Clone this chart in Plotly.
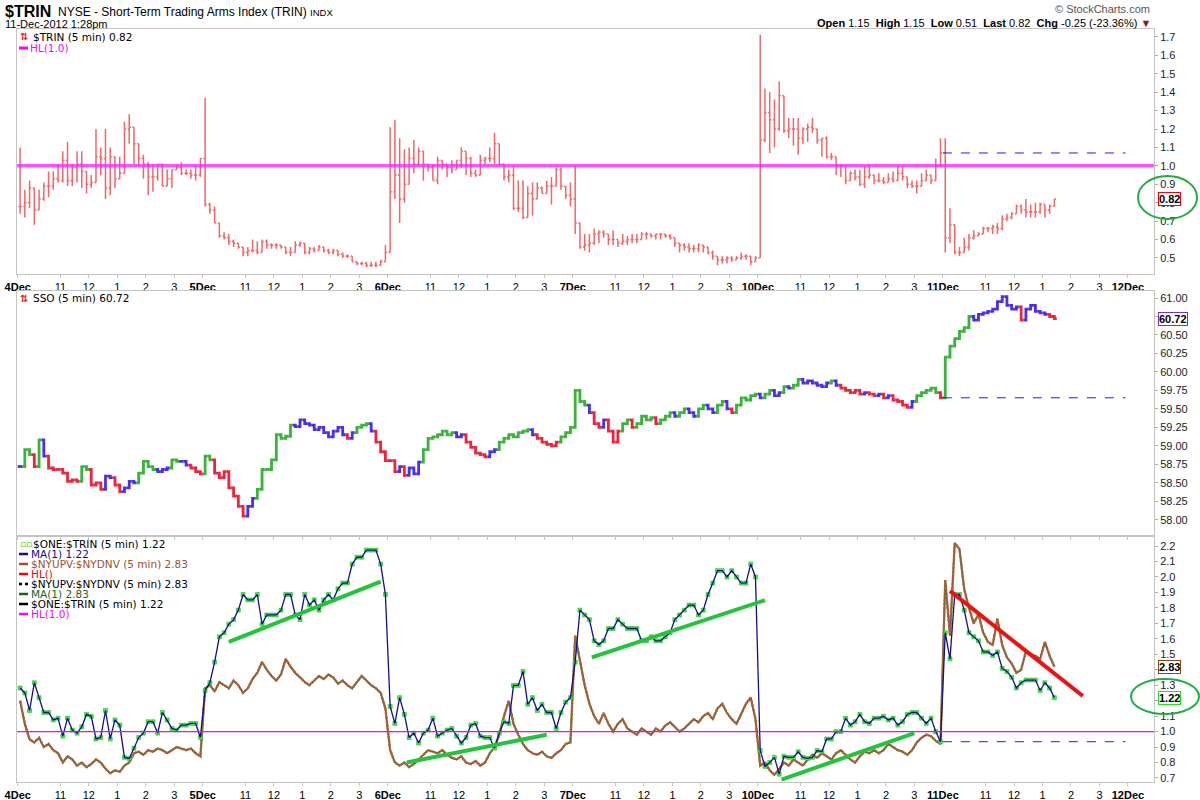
import numpy as np
import plotly.graph_objects as go

# ---------------- data (10-minute samples) ----------------
day_labels = ["4Dec", "5Dec", "6Dec", "7Dec", "10Dec", "11Dec", "12Dec"]
hour_labels = ["11", "12", "1", "2", "3"]

# $TRIN close / high / low per day
trin_close_dec04 = [0.78,0.80,0.88,0.76,0.82,0.89,0.89,0.93,0.92,1.03,0.92,0.99,1.01,0.97,0.90,0.91,1.05,1.04,0.88,1.05,
                    0.93,0.96,1.20,1.21,1.12,1.04,1.01,0.94,0.94,1.01,0.89,0.93,0.98,0.99,0.96,0.96,0.95,0.95,1.04]
trin_high_dec04 = [1.10,0.87,0.92,0.82,0.87,0.91,0.97,0.97,1.01,1.08,1.13,1.01,1.08,1.08,0.95,0.95,1.20,1.10,1.20,1.10,
                   1.01,1.05,1.24,1.28,1.21,1.08,1.06,1.02,1.01,1.01,0.98,0.98,0.98,1.01,1.02,0.98,0.98,1.00,1.04]
trin_low_dec04 = [0.74,0.72,0.77,0.68,0.76,0.81,0.83,0.87,0.91,0.91,0.89,0.89,0.91,0.88,0.85,0.88,0.94,0.95,0.82,0.84,
                  0.88,0.93,1.00,1.12,1.01,1.00,0.93,0.84,0.86,0.92,0.89,0.92,0.88,0.98,0.95,0.95,0.93,0.92,0.94]

trin_close_dec05 = [0.79,0.76,0.69,0.62,0.61,0.59,0.58,0.56,0.53,0.54,0.54,0.53,0.59,0.57,0.57,0.57,0.56,0.53,0.53,0.57,
                    0.58,0.53,0.55,0.54,0.56,0.54,0.53,0.54,0.52,0.51,0.51,0.48,0.47,0.47,0.46,0.46,0.46,0.48,0.53]
trin_high_dec05 = [1.37,0.80,0.78,0.68,0.64,0.63,0.60,0.58,0.56,0.56,0.60,0.59,0.60,0.60,0.58,0.58,0.57,0.56,0.56,0.59,
                   0.59,0.57,0.56,0.56,0.57,0.56,0.55,0.55,0.54,0.53,0.52,0.50,0.48,0.48,0.48,0.48,0.48,0.49,0.57]
trin_low_dec05 = [0.78,0.74,0.69,0.61,0.60,0.57,0.56,0.55,0.51,0.51,0.53,0.52,0.56,0.55,0.55,0.55,0.55,0.52,0.51,0.55,
                  0.56,0.52,0.52,0.53,0.54,0.53,0.52,0.52,0.51,0.50,0.50,0.48,0.46,0.46,0.45,0.45,0.45,0.46,0.48]

trin_close_dec06 = [0.86,0.95,0.82,0.90,1.04,1.01,1.08,1.01,0.99,0.92,1.03,1.01,0.99,0.98,1.03,1.08,1.04,0.96,0.95,1.03,
                    1.04,1.04,1.12,1.01,0.94,0.95,0.77,0.77,0.72,0.85,0.82,0.88,0.85,0.89,0.89,0.98,0.89,0.84,0.82]
trin_high_dec06 = [1.21,1.25,1.15,1.09,1.10,1.14,1.10,1.08,1.01,1.01,1.05,1.02,1.01,1.03,1.03,1.10,1.05,1.05,0.98,1.06,
                   1.05,1.10,1.18,1.09,1.01,0.98,1.00,0.92,0.92,0.89,0.91,0.91,0.89,0.92,0.94,0.99,0.99,0.89,0.91]
trin_low_dec06 = [0.71,0.82,0.69,0.80,0.96,0.96,1.00,0.92,0.97,0.92,0.90,0.98,0.94,0.96,1.00,0.99,0.95,0.94,0.94,1.00,
                  1.01,1.02,1.01,1.00,0.92,0.91,0.76,0.75,0.71,0.75,0.73,0.87,0.85,0.85,0.79,0.89,0.87,0.82,0.78]

trin_close_dec07 = [0.69,0.56,0.57,0.58,0.63,0.64,0.63,0.60,0.60,0.58,0.59,0.60,0.60,0.60,0.63,0.63,0.62,0.63,0.63,0.62,
                    0.61,0.58,0.57,0.56,0.55,0.55,0.57,0.56,0.53,0.51,0.49,0.49,0.50,0.49,0.50,0.51,0.51,0.48,0.50]
trin_high_dec07 = [1.00,0.67,0.63,0.63,0.66,0.65,0.65,0.63,0.65,0.60,0.63,0.62,0.63,0.63,0.64,0.64,0.63,0.63,0.63,0.63,
                   0.63,0.60,0.58,0.58,0.58,0.57,0.58,0.57,0.55,0.54,0.50,0.51,0.51,0.51,0.51,0.53,0.52,0.50,0.51]
trin_low_dec07 = [0.63,0.55,0.54,0.53,0.57,0.58,0.61,0.57,0.57,0.56,0.57,0.57,0.58,0.58,0.61,0.60,0.61,0.60,0.60,0.61,
                  0.60,0.56,0.53,0.54,0.53,0.53,0.53,0.53,0.52,0.49,0.46,0.47,0.47,0.48,0.49,0.49,0.49,0.46,0.48]

trin_close_dec10 = [1.14,1.29,1.25,1.20,1.38,1.19,1.20,1.20,1.15,1.20,1.21,1.20,1.14,1.15,1.05,1.05,1.00,1.00,0.92,0.96,
                    0.94,0.90,0.94,0.95,0.92,0.92,0.91,0.93,0.92,0.96,0.94,0.90,0.89,0.89,0.92,0.95,0.92,1.00,1.07]
trin_high_dec10 = [1.71,1.42,1.40,1.36,1.46,1.37,1.26,1.26,1.26,1.21,1.23,1.26,1.18,1.15,1.16,1.07,1.01,1.01,0.99,0.97,
                   0.98,0.98,1.00,1.01,0.95,0.96,0.94,0.96,0.97,1.00,1.00,0.94,0.92,0.92,0.96,0.98,0.93,1.04,1.15]
trin_low_dec10 = [1.09,1.13,1.07,1.10,1.19,1.18,1.15,1.11,1.06,1.12,1.13,1.18,1.12,1.05,1.04,1.03,0.95,0.94,0.90,0.93,
                  0.92,0.89,0.88,0.93,0.90,0.91,0.90,0.91,0.91,0.94,0.92,0.88,0.88,0.85,0.90,0.92,0.90,0.96,1.00]

trin_close_dec11 = [0.61,0.68,0.53,0.53,0.56,0.61,0.62,0.63,0.66,0.66,0.67,0.66,0.71,0.72,0.74,0.78,0.76,0.75,0.75,0.75,
                    0.79,0.76,0.78,0.82]
trin_high_dec11 = [1.15,0.77,0.60,0.56,0.61,0.63,0.65,0.64,0.67,0.67,0.68,0.69,0.73,0.74,0.75,0.79,0.79,0.82,0.79,0.80,
                   0.80,0.79,0.79,0.82]
trin_low_dec11 = [0.53,0.58,0.52,0.51,0.53,0.54,0.60,0.62,0.63,0.64,0.63,0.63,0.65,0.70,0.71,0.75,0.74,0.72,0.72,0.72,
                  0.74,0.72,0.74,0.79]
trin_open_dec11 = 1.15

# SSO closes per day
sso_dec04 = [58.72,58.95,58.88,58.72,59.08,58.86,58.70,58.68,58.68,58.63,58.52,58.54,58.52,58.72,58.68,58.47,58.50,58.41,58.59,58.57,
             58.47,58.38,58.43,58.52,58.50,58.63,58.79,58.72,58.68,58.65,58.68,58.70,58.81,58.79,58.79,58.74,58.70,58.65,58.62]
sso_dec05 = [58.86,58.81,58.63,58.57,58.65,58.43,58.32,58.18,58.05,58.18,58.29,58.41,58.68,58.68,58.81,59.15,59.10,59.13,59.28,59.26,
             59.35,59.30,59.28,59.22,59.25,59.18,59.12,59.20,59.25,59.15,59.10,59.18,59.25,59.28,59.30,59.20,59.05,58.92,58.80]
sso_dec06 = [58.80,58.65,58.72,58.60,58.70,58.62,58.78,58.95,59.10,59.12,59.15,59.20,59.15,59.18,59.12,59.15,59.05,58.98,58.90,58.88,
             58.85,58.92,58.95,59.05,59.10,59.15,59.12,59.18,59.20,59.22,59.15,59.10,59.05,59.02,59.00,59.05,59.12,59.18,59.25]
sso_dec07 = [59.75,59.60,59.55,59.45,59.30,59.25,59.35,59.20,59.05,59.20,59.30,59.35,59.25,59.30,59.40,59.35,59.38,59.30,59.35,59.40,
             59.45,59.40,59.45,59.50,59.45,59.40,59.50,59.55,59.50,59.45,59.55,59.60,59.50,59.45,59.55,59.65,59.62,59.68,59.70]
sso_dec10 = [59.65,59.70,59.75,59.68,59.72,59.80,59.78,59.82,59.90,59.85,59.88,59.85,59.82,59.80,59.85,59.88,59.82,59.78,59.75,59.72,
             59.75,59.70,59.72,59.70,59.68,59.70,59.65,59.68,59.62,59.60,59.55,59.52,59.60,59.68,59.72,59.75,59.78,59.72,59.65]
sso_dec11 = [60.20,60.35,60.45,60.55,60.60,60.75,60.70,60.78,60.80,60.82,60.85,60.95,61.02,60.90,60.85,60.88,60.70,60.85,60.90,60.82,
             60.80,60.78,60.75,60.72]

# $NYUPV:$NYDNV as drawn in the lower panel (panel scale)
updn_dec04 = [1.20,1.05,0.95,0.93,0.96,0.90,0.92,0.88,0.86,0.80,0.84,0.82,0.78,0.80,0.77,0.79,0.82,0.80,0.76,0.73,
              0.75,0.74,0.78,0.80,0.86,0.87,0.85,0.88,0.87,0.89,0.88,0.86,0.88,0.90,0.89,0.88,0.89,0.86,0.84]
updn_dec05 = [1.28,1.30,1.26,1.32,1.30,1.28,1.33,1.30,1.25,1.28,1.34,1.38,1.45,1.40,1.36,1.33,1.37,1.47,1.42,1.38,
              1.35,1.32,1.30,1.33,1.36,1.34,1.37,1.35,1.31,1.33,1.30,1.28,1.32,1.36,1.33,1.30,1.28,1.25,1.15]
updn_dec06 = [0.88,0.80,0.78,0.80,0.77,0.79,0.82,0.85,0.88,0.87,0.86,0.88,0.85,0.83,0.82,0.84,0.80,0.79,0.81,0.78,
              0.80,0.86,0.90,0.98,1.10,1.20,1.05,0.98,0.92,0.88,0.86,0.85,0.87,0.84,0.83,0.86,0.88,0.92,0.93]
updn_dec07 = [1.62,1.45,1.30,1.18,1.10,1.05,1.12,1.05,1.00,1.05,1.08,1.02,1.00,0.98,1.02,1.00,0.98,1.02,1.00,1.04,
              1.06,1.03,1.00,1.02,1.05,1.08,1.06,1.10,1.12,1.08,1.15,1.18,1.12,1.08,1.05,1.12,1.18,1.22,1.08]
updn_dec10 = [0.78,0.80,0.75,0.72,0.76,0.80,0.78,0.82,0.80,0.78,0.82,0.85,0.83,0.86,0.84,0.82,0.86,0.88,0.85,0.82,
              0.80,0.84,0.87,0.86,0.88,0.86,0.88,0.92,0.90,0.88,0.87,0.85,0.88,0.93,0.96,0.98,0.97,0.94,0.92]
updn_dec11 = [1.98,1.62,2.22,2.18,1.92,1.80,1.70,1.76,1.64,1.58,1.56,1.73,1.56,1.48,1.44,1.38,1.40,1.52,1.50,1.49,
              1.47,1.58,1.49,1.42]
updn_last = 2.83

# hand-drawn trendlines in the lower panel: (bar0, value0, bar1, value1)
green_trendlines = [(89, 1.58, 153, 1.97), (164, 0.80, 223, 0.98), (242, 1.48, 315, 1.85), (322, 0.69, 378, 0.99)]
red_trendline = (393, 1.91, 449, 1.23)

# ---------------- assemble ----------------
BARS = 78  # 5-minute bars per session


def sample_x(day, n):
    return [day * BARS + 2 * j + 1 for j in range(n)]


trin_days = [(trin_close_dec04, trin_high_dec04, trin_low_dec04), (trin_close_dec05, trin_high_dec05, trin_low_dec05),
             (trin_close_dec06, trin_high_dec06, trin_low_dec06), (trin_close_dec07, trin_high_dec07, trin_low_dec07),
             (trin_close_dec10, trin_high_dec10, trin_low_dec10), (trin_close_dec11, trin_high_dec11, trin_low_dec11)]
sso_days = [sso_dec04, sso_dec05, sso_dec06, sso_dec07, sso_dec10, sso_dec11]
updn_days = [updn_dec04, updn_dec05, updn_dec06, updn_dec07, updn_dec10, updn_dec11]

x, tc, th, tl = [], [], [], []
for d, (c, h, l) in enumerate(trin_days):
    x += sample_x(d, len(c))
    tc += c
    th += h
    tl += l
sso = sum(sso_days, [])
updn = sum(updn_days, [])
one_trin = [1.0 / v for v in tc]
n_dec11 = len(trin_close_dec11)
prev_trin = tc[-n_dec11 - 1]
prev_sso = sso[-n_dec11 - 1]

# ---------------- layout helpers ----------------
W, H = 1200, 800
ML, MR, MT, MB = 17, 46, 29, 18


def pxx(p):
    return (p - ML) / (W - ML - MR)


def pxy(p):
    return (H - MB - p) / (H - MT - MB)


FONT = "Liberation Sans"
LEG_FONT = "DejaVu Sans"
fig = go.Figure()

# TRIN OHLC bars
bx, by = [], []
for i, (xi, c, h, l) in enumerate(zip(x, tc, th, tl)):
    o = tc[i - 1] if i else c
    hi, lo = max(h, o, c), min(l, o, c)
    bx += [xi, xi, None, xi - 0.7, xi, None, xi, xi + 0.7, None]
    by += [lo, hi, None, o, o, None, c, c, None]
fig.add_trace(go.Scatter(x=bx, y=by, mode="lines", line=dict(color="#f26666", width=1.5),
                         xaxis="x", yaxis="y", hoverinfo="skip"))


# SSO bars coloured by an impulse rule (EMA13 slope + MACD histogram slope)
def ema(vals, n):
    k = 2 / (n + 1)
    out = [vals[0]]
    for v in vals[1:]:
        out.append(out[-1] + k * (v - out[-1]))
    return np.array(out)


sc = np.array(sso)
e13 = ema(sc, 13)
macd = ema(sc, 12) - ema(sc, 26)
hist = macd - ema(macd, 9)
paths = {"#39b339": ([], []), "#f0233a": ([], []), "#4b2ff0": ([], [])}
for i in range(len(sso)):
    o = sso[i - 1] if i else sso[i]
    c = sso[i]
    if i and e13[i] > e13[i - 1] and hist[i] > hist[i - 1]:
        col = "#39b339"
    elif i and e13[i] < e13[i - 1] and hist[i] < hist[i - 1]:
        col = "#f0233a"
    else:
        col = "#4b2ff0"
    px_, py_ = paths[col]
    px_ += [x[i] - 1, x[i], x[i], x[i] + 1, None]
    py_ += [o, o, c, c, None]
for col, (px_, py_) in paths.items():
    fig.add_trace(go.Scatter(x=px_, y=py_, mode="lines", line=dict(color=col, width=2.8),
                             xaxis="x2", yaxis="y2", hoverinfo="skip"))

# lower panel
fig.add_trace(go.Scatter(x=x, y=updn, mode="lines", line=dict(color="#3d6b35", width=1.8),
                         xaxis="x3", yaxis="y3", hoverinfo="skip"))
fig.add_trace(go.Scatter(x=x, y=updn, mode="lines", line=dict(color="#b0603a", width=2.4, dash="3px,1px"),
                         xaxis="x3", yaxis="y3", hoverinfo="skip"))
fig.add_trace(go.Scatter(x=x, y=one_trin, mode="markers",
                         marker=dict(symbol="square", size=4, color="#44ee44", line=dict(color="#11aa11", width=0.5)),
                         xaxis="x3", yaxis="y3", hoverinfo="skip"))
fig.add_trace(go.Scatter(x=x, y=one_trin, mode="lines", line=dict(color="#10108a", width=1.3),
                         xaxis="x3", yaxis="y3", hoverinfo="skip"))

shapes = []
# HL(1.0) lines
shapes.append(dict(type="line", xref="x domain", yref="y", x0=0, x1=1, y0=1.0, y1=1.0,
                   line=dict(color="rgba(255,40,255,0.8)", width=3.5)))
shapes.append(dict(type="line", xref="x3 domain", yref="y3", x0=0, x1=1, y0=1.0, y1=1.0,
                   line=dict(color="#ff00ff", width=1.3)))
# previous-close dashed lines
x_from, x_to = 5 * BARS, 6 * BARS - 1
for ax, val in [("", prev_trin), ("2", prev_sso), ("3", 1.0 / prev_trin)]:
    shapes.append(dict(type="line", xref="x" + ax, yref="y" + ax, x0=x_from, x1=x_to, y0=val, y1=val,
                       line=dict(color="#1a1aff", width=1, dash="dash")))
# trendlines
for x0, y0, x1, y1 in green_trendlines:
    shapes.append(dict(type="line", xref="x3", yref="y3", x0=x0, y0=y0, x1=x1, y1=y1,
                       line=dict(color="#22c43a", width=4)))
x0, y0, x1, y1 = red_trendline
shapes.append(dict(type="line", xref="x3", yref="y3", x0=x0, y0=y0, x1=x1, y1=y1,
                   line=dict(color="#ee1111", width=4)))
# green ellipses around the last values
shapes.append(dict(type="circle", xref="paper", yref="paper", x0=pxx(1138), x1=pxx(1197), y0=pxy(219), y1=pxy(176),
                   line=dict(color="#1fae3c", width=2)))
shapes.append(dict(type="circle", xref="paper", yref="paper", x0=pxx(1131), x1=pxx(1199), y0=pxy(714), y1=pxy(679),
                   line=dict(color="#1fae3c", width=2)))

ann = []


def text(xp, yp, s, size=11, color="#000", anchor="left", family=FONT):
    ann.append(dict(xref="paper", yref="paper", x=pxx(xp), y=pxy(yp), text=s, showarrow=False,
                    xanchor=anchor, yanchor="middle", font=dict(family=family, size=size, color=color)))


# header
text(3, 11, "<b>$TRIN</b>", size=16)
text(56, 12, "NYSE - Short-Term Trading Arms Index (TRIN) <span style='font-size:9.5px'>INDX</span>", size=12)
text(3, 24, "11-Dec-2012 1:28pm", size=11)
text(1152, 9, "© StockCharts.com", size=11, color="#555", anchor="right")
chg = tc[-1] - prev_trin
text(1153, 23, "<b>Open</b> %.2f  <b>High</b> %.2f  <b>Low</b> %.2f  <b>Last</b> %.2f  <b>Chg</b> %.2f (%.2f%%) "
     "<span style='color:#8b1a2a'>▼</span>"
     % (trin_open_dec11, max(trin_high_dec11), min(trin_low_dec11), tc[-1], chg, 100 * chg / prev_trin),
     size=11, anchor="right")

# panel legends
text(18, 37, "<b><span style='color:#e82020'>⇅</span></b>", size=10, family=LEG_FONT)
text(31, 37, "$TRIN (5 min) %.2f" % tc[-1], size=10.5, family=LEG_FONT)
shapes.append(dict(type="line", xref="paper", yref="paper", x0=pxx(19), x1=pxx(28), y0=pxy(48), y1=pxy(48),
                   line=dict(color="#ff00ff", width=3)))
text(28, 48, "HL(1.0)", size=10.5, color="#ff00ff", family=LEG_FONT)

text(18, 298, "<b><span style='color:#e82020'>⇅</span></b>", size=10, family=LEG_FONT)
text(31, 298, "SSO (5 min) %.2f" % sso[-1], size=10.5, family=LEG_FONT)

legend_rows = [
    ("sq", "#44ee44", "$ONE:$TRIN (5 min) %.2f" % one_trin[-1], "#000"),
    ("solid", "#10108a", "MA(1) %.2f" % one_trin[-1], "#10108a"),
    ("dash", "#a0522d", "$NYUPV:$NYDNV (5 min) %.2f" % updn_last, "#a0522d"),
    ("solid", "#ff0000", "HL()", "#ff0000"),
    ("dot", "#000000", "$NYUPV:$NYDNV (5 min) %.2f" % updn_last, "#000"),
    ("solid", "#1e5e1e", "MA(1) %.2f" % updn_last, "#1e5e1e"),
    ("solid", "#000000", "$ONE:$TRIN (5 min) %.2f" % one_trin[-1], "#000"),
    ("solid", "#ff00ff", "HL(1.0)", "#ff00ff"),
]
for k, (kind, col, label, tcol) in enumerate(legend_rows):
    yy = 544 + 10 * k
    if kind == "sq":
        text(18, yy, "<span style='color:#22cc22'>▫▫</span>", size=9, family=LEG_FONT)
    else:
        shapes.append(dict(type="line", xref="paper", yref="paper", x0=pxx(19), x1=pxx(28), y0=pxy(yy), y1=pxy(yy),
                           line=dict(color=col, width=2.5, dash=kind)))
    text(29 if kind != "sq" else 31, yy, label, size=10.5, color=tcol, family=LEG_FONT)

# value tags on the right axis
tags = [("y", tc[-1], "%.2f" % tc[-1], "#ff0000"), ("y2", sso[-1], "%.2f" % sso[-1], "#7a2fd0"),
        ("y3", updn[-1], "%.2f" % updn_last, "#8b4513"), ("y3", one_trin[-1], "%.2f" % one_trin[-1], "#22dd22")]
for yref, yv, s, col in tags:
    ann.append(dict(xref="paper", yref=yref, x=pxx(1158), y=yv, text="<b>%s</b>" % s, showarrow=False,
                    xanchor="left", yanchor="middle", bgcolor="white", bordercolor=col, borderwidth=1, borderpad=0,
                    font=dict(family=FONT, size=11, color="#000")))

# ---------------- axes ----------------
tickvals, ticktext = [], []
for d, lab in enumerate(day_labels):
    tickvals.append(d * BARS)
    ticktext.append("<b>%s</b>" % lab)
    if d < len(day_labels) - 1:
        for h in hour_labels:
            h24 = int(h) if int(h) >= 9 else int(h) + 12
            tickvals.append(d * BARS + (h24 * 60 - 570) / 5)
            ticktext.append(h)

xcommon = dict(range=[-0.3, 479], showgrid=False, zeroline=False, showline=True, mirror=True, linecolor="#c4c4c4",
               tickvals=tickvals, ticktext=ticktext, ticks="outside", ticklen=3, tickcolor="#c4c4c4",
               automargin=False, tickfont=dict(family=FONT, size=11, color="#000"))
ycommon = dict(side="right", showgrid=False, zeroline=False, showline=True, mirror=True, linecolor="#c4c4c4",
               ticks="outside", ticklen=3, tickcolor="#aaa", automargin=False,
               tickfont=dict(family=FONT, size=11, color="#222"))

top_ticks = [round(0.5 + 0.1 * k, 1) for k in range(13)]
mid_ticks = [58 + 0.25 * k for k in range(13)]
bot_ticks = [round(0.7 + 0.1 * k, 1) for k in range(16)]

fig.update_layout(
    width=W, height=H, margin=dict(l=ML, r=MR, t=MT, b=MB, autoexpand=False),
    paper_bgcolor="white", plot_bgcolor="white", showlegend=False,
    xaxis=dict(xcommon, domain=[0, 1], anchor="y", showticklabels=True),
    xaxis2=dict(xcommon, domain=[0, 1], anchor="y2", matches="x", showticklabels=False),
    xaxis3=dict(xcommon, domain=[0, 1], anchor="y3", matches="x", showticklabels=True),
    yaxis=dict(ycommon, domain=[pxy(274), 1], anchor="x", range=[0.413, 1.743], tickvals=top_ticks,
               ticktext=["%.1f" % v for v in top_ticks]),
    yaxis2=dict(ycommon, domain=[pxy(536), pxy(291)], anchor="x2", range=[57.78, 61.095], tickvals=mid_ticks,
                ticktext=["%.2f" % v for v in mid_ticks]),
    yaxis3=dict(ycommon, domain=[0, pxy(536)], anchor="x3", range=[0.674, 2.265], tickvals=bot_ticks,
                ticktext=["%.1f" % v for v in bot_ticks]),
    shapes=shapes, annotations=ann,
)

# the page's default body margin would push the 1200x800 figure off the window
fig.write_html("out.html", config={"displayModeBar": False},
               post_script="document.body.style.margin='0';document.body.style.overflow='hidden';")
